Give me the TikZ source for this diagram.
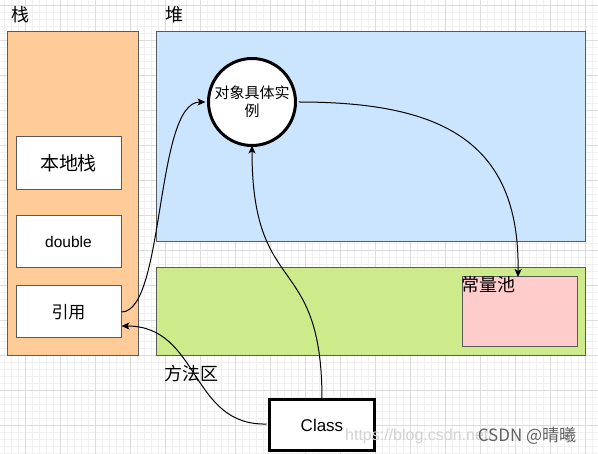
\documentclass[tikz,border=0pt]{standalone}
\usepackage{fontspec}
\setmainfont{Liberation Sans}
\newfontfamily\cjk{Noto Sans CJK SC}
\usetikzlibrary{arrows.meta}
\definecolor{stackfill}{HTML}{FFCC99}
\definecolor{heapfill}{HTML}{CCE5FF}
\definecolor{methodfill}{HTML}{CDEB8B}
\definecolor{poolfill}{HTML}{FFCCCC}
\definecolor{edgegray}{HTML}{5A5A5A}
\definecolor{gridminor}{HTML}{F0F0F0}
\definecolor{gridmajor}{HTML}{DCDCDC}
\tikzset{
  region/.style={draw=edgegray, line width=1pt},
  itembox/.style={draw=edgegray, fill=white, line width=1pt},
  boldshape/.style={draw=black, fill=white, line width=3pt},
  conn/.style={draw=black, line width=1pt, -{Stealth[length=8pt,width=7pt,inset=2pt]}},
  lbl/.style={inner sep=0pt, font=\cjk\fontsize{18}{20}\selectfont},
}
\begin{document}
\begin{tikzpicture}[x=1pt,y=-1pt]
\useasboundingbox (0,0) rectangle (598,454);
\fill[white] (0,0) rectangle (598,454);
% grid
\foreach \x in {4,11,...,597} \draw[gridminor, line width=0.6pt] (\x,0) -- (\x,454);
\foreach \y in {5,12,...,453} \draw[gridminor, line width=0.6pt] (0,\y) -- (598,\y);
\foreach \x in {25,60,...,597} \draw[gridmajor, line width=0.8pt] (\x,0) -- (\x,454);
\foreach \y in {5,40,...,453} \draw[gridmajor, line width=0.8pt] (0,\y) -- (598,\y);

% regions
\draw[region, fill=stackfill] (7,32) rectangle (138,356);
\draw[region, fill=heapfill] (156,32) rectangle (585,242);
\draw[region, fill=methodfill] (156,268) rectangle (585,356);
\draw[region, fill=poolfill] (462,277) rectangle (577,347);

% labels
\node[lbl] (lstack) at (20,15) {栈};
\node[lbl] (lheap) at (174,15) {堆};
\node[lbl] (lmethod) at (191,374) {方法区};
\node[lbl, anchor=north west] (lpool) at (461,276) {常量池};

% stack items
\node[itembox, minimum width=105pt, minimum height=53pt, font=\cjk\fontsize{19}{22}\selectfont] (local) at (68.5,163.5) {本地栈};
\node[itembox, minimum width=105pt, minimum height=52pt, font=\fontsize{15.5}{18}\selectfont] (dbl) at (68.5,242) {double};
\node[itembox, minimum width=105pt, minimum height=52pt, font=\cjk\fontsize{17}{20}\selectfont] (ref) at (68.5,312) {引用};

% object circle
\node[boldshape, circle, minimum size=87pt, inner sep=0pt, align=center, font=\cjk\fontsize{15}{18}\selectfont] (obj) at (252,102) {对象具体实\\例};

% class box
\node[boldshape, minimum width=105pt, minimum height=51pt, font=\fontsize{17}{20}\selectfont] (cls) at (322,425) {Class};

% connectors
\coordinate (refA) at (121.5,312);
\coordinate (refB) at (121.5,326);
\coordinate (objL) at ([xshift=-1.5pt]obj.west);
\coordinate (objB) at ([yshift=1.5pt]obj.south);
\coordinate (poolT) at (518,277);
\coordinate (clsT) at ([yshift=-1.5pt]cls.north);
\coordinate (clsL) at ([xshift=-1.5pt,yshift=1pt]cls.west);
\draw[conn] (refA) .. controls (165,312) and (155,102) .. (objL);
\draw[conn] ([xshift=1.5pt]obj.east) .. controls (440,102) and (520,140) .. (poolT);
\draw[conn] (clsT) .. controls (322,250) and (252,300) .. (objB);
\draw[conn] (clsL) .. controls (190,426) and (200,326) .. (refB);

% watermark
\node[inner sep=0pt, anchor=west, text=gray!35, font=\fontsize{16}{18}\selectfont] (wurl) at (345,436) {https://blog.csdn.net/};
\node[inner sep=0pt, text=black!62, font=\cjk\fontsize{17}{19}\selectfont] (wm) at (527,436) {CSDN @晴曦};
\end{tikzpicture}
\end{document}
